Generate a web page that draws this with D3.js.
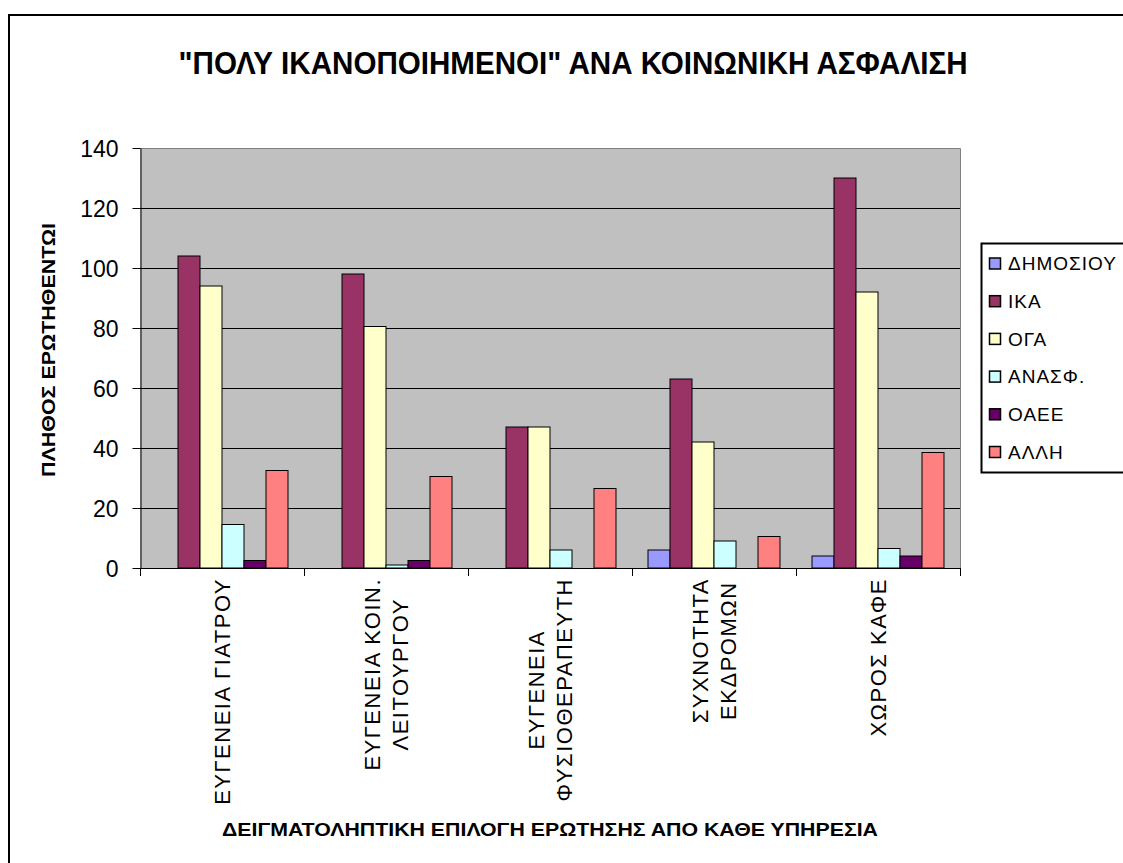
<!DOCTYPE html>
<html>
<head>
<meta charset="utf-8">
<script src="https://cdn.jsdelivr.net/npm/d3@7"></script>
<style>
  html, body { margin: 0; padding: 0; background: #fff; }
  svg { display: block; }
  text { font-family: "Liberation Sans", Arial, sans-serif; fill: #000; }
</style>
</head>
<body>
<svg id="chart" width="1123" height="863"></svg>
<script>
// ---- data ----
const categories = [
  ["ΕΥΓΕΝΕΙΑ ΓΙΑΤΡΟΥ"],
  ["ΕΥΓΕΝΕΙΑ ΚΟΙΝ.", "ΛΕΙΤΟΥΡΓΟΥ"],
  ["ΕΥΓΕΝΕΙΑ", "ΦΥΣΙΟΘΕΡΑΠΕΥΤΗ"],
  ["ΣΥΧΝΟΤΗΤΑ", "ΕΚΔΡΟΜΩΝ"],
  ["ΧΩΡΟΣ ΚΑΦΕ"]
];
const seriesNames = ["ΔΗΜΟΣΙΟΥ", "ΙΚΑ", "ΟΓΑ", "ΑΝΑΣΦ.", "ΟΑΕΕ", "ΑΛΛΗ"];
const seriesColors = ["#9999FF", "#993366", "#FFFFCC", "#CCFFFF", "#660066", "#FF8080"];
const dimosiou = [0, 0, 0, 6, 4];
const ika      = [104, 98, 47, 63, 130];
const oga      = [94, 80.5, 47, 42, 92];
const anasf    = [14.5, 1, 6, 9, 6.5];
const oaee     = [2.5, 2.5, 0, 0, 4];
const alli     = [32.5, 30.5, 26.5, 10.5, 38.5];
const seriesValues = [dimosiou, ika, oga, anasf, oaee, alli];
const yTicks = [0, 20, 40, 60, 80, 100, 120, 140];
const chartTitle = "\"ΠΟΛΥ ΙΚΑΝΟΠΟΙΗΜΕΝΟΙ\" ΑΝΑ ΚΟΙΝΩΝΙΚΗ ΑΣΦΑΛΙΣΗ";
const yTitle = "ΠΛΗΘΟΣ ΕΡΩΤΗΘΕΝΤΩΙ";
const xTitle = "ΔΕΙΓΜΑΤΟΛΗΠΤΙΚΗ ΕΠΙΛΟΓΗ ΕΡΩΤΗΣΗΣ ΑΠΟ ΚΑΘΕ ΥΠΗΡΕΣΙΑ";

// ---- layout ----
const svg = d3.select("#chart");
const plot = { left: 140, right: 960, top: 148, bottom: 568 };

// outer chart border
svg.append("rect")
  .attr("x", 9).attr("y", 15).attr("width", 1130).attr("height", 870)
  .attr("fill", "#fff").attr("stroke", "#000").attr("stroke-width", 2);

const x0 = d3.scaleBand().domain(d3.range(categories.length))
  .range([plot.left, plot.right]).paddingInner(0).paddingOuter(0);
const x1 = d3.scaleBand().domain(d3.range(seriesNames.length))
  .range([0, x0.bandwidth()]).paddingInner(0).paddingOuter(16 / 22);
const y = d3.scaleLinear().domain([0, 140]).range([plot.bottom, plot.top]);

// plot background
svg.append("rect")
  .attr("x", plot.left).attr("y", plot.top)
  .attr("width", plot.right - plot.left).attr("height", plot.bottom - plot.top)
  .attr("fill", "#C0C0C0");

// gridlines
svg.append("g").selectAll("line").data(yTicks.filter(t => t > 0 && t < 140)).join("line")
  .attr("x1", plot.left).attr("x2", plot.right)
  .attr("y1", d => y(d) + 0.5).attr("y2", d => y(d) + 0.5)
  .attr("stroke", "#000").attr("stroke-width", 1);

// top & right plot border (grey)
svg.append("path")
  .attr("d", `M${plot.left},${plot.top + 0.5}H${plot.right + 0.5}V${plot.bottom}`)
  .attr("fill", "none").attr("stroke", "#808080").attr("stroke-width", 1);

// bars
const data = [];
categories.forEach((c, ci) => seriesNames.forEach((s, si) => {
  data.push({ ci, si, v: seriesValues[si][ci] });
}));
svg.append("g").selectAll("rect").data(data.filter(d => d.v > 0)).join("rect")
  .attr("x", d => x0(d.ci) + x1(d.si))
  .attr("y", d => y(d.v))
  .attr("width", x1.bandwidth())
  .attr("height", d => y(0) - y(d.v))
  .attr("fill", d => seriesColors[d.si])
  .attr("stroke", "#000").attr("stroke-width", 1);

// y axis
const yAxis = d3.axisLeft(y).tickValues(yTicks).tickSize(8).tickPadding(14).tickSizeOuter(0);
const yg = svg.append("g").attr("transform", `translate(${plot.left + 0.5},0)`).call(yAxis);
yg.select(".domain").attr("stroke", "#000");
yg.selectAll(".tick line").attr("stroke", "#000");
yg.selectAll(".tick text").attr("font-size", 23).attr("font-family", "Liberation Sans, Arial, sans-serif").attr("dy", "0.35em");

// x axis (ticks at category boundaries)
const boundaries = d3.range(categories.length + 1).map(i => i < categories.length ? x0(i) : plot.right);
svg.append("line")
  .attr("x1", plot.left).attr("x2", plot.right)
  .attr("y1", plot.bottom + 0.5).attr("y2", plot.bottom + 0.5)
  .attr("stroke", "#000");
svg.append("g").selectAll("line").data(boundaries).join("line")
  .attr("x1", d => d + 0.5).attr("x2", d => d + 0.5)
  .attr("y1", plot.bottom).attr("y2", plot.bottom + 8)
  .attr("stroke", "#000");

// category labels (rotated, centered lines, block aligned to top)
const labelTop = 578;
const lineGap = 28;
categories.forEach((lines, ci) => {
  const cx = x0(ci) + x0.bandwidth() / 2;
  const n = lines.length;
  const g = svg.append("g");
  const texts = lines.map((ln, li) => {
    const lx = cx + (li - (n - 1) / 2) * lineGap + 8;
    return g.append("text")
      .attr("font-size", 22)
      .attr("letter-spacing", 1.5)
      .attr("text-anchor", "middle")
      .attr("data-x", lx)
      .text(ln);
  });
  const maxLen = d3.max(texts, t => t.node().getComputedTextLength());
  const cy = labelTop + maxLen / 2;
  texts.forEach(t => {
    const lx = +t.attr("data-x");
    t.attr("transform", `translate(${lx},${cy}) rotate(-90)`);
  });
});

// title
svg.append("text")
  .attr("x", 573).attr("y", 74)
  .attr("text-anchor", "middle")
  .attr("font-size", 31).attr("font-weight", "bold")
  .attr("textLength", 789).attr("lengthAdjust", "spacingAndGlyphs")
  .text(chartTitle);

// y title
svg.append("text")
  .attr("transform", "translate(55,350) rotate(-90)")
  .attr("text-anchor", "middle")
  .attr("font-size", 18).attr("font-weight", "bold")
  .attr("textLength", 254).attr("lengthAdjust", "spacingAndGlyphs")
  .text(yTitle);

// x title
svg.append("text")
  .attr("x", 550).attr("y", 836)
  .attr("text-anchor", "middle")
  .attr("font-size", 18).attr("font-weight", "bold")
  .attr("textLength", 656).attr("lengthAdjust", "spacingAndGlyphs")
  .text(xTitle);

// legend
const legend = svg.append("g");
legend.append("rect")
  .attr("x", 981.5).attr("y", 243.5).attr("width", 200).attr("height", 229)
  .attr("fill", "#fff").attr("stroke", "#000").attr("stroke-width", 2);
const legY = d3.scalePoint().domain(seriesNames).range([263.5, 452]);
seriesNames.forEach((s, i) => {
  legend.append("rect")
    .attr("x", 989.5).attr("y", legY(s) - 5.5).attr("width", 11).attr("height", 11)
    .attr("fill", seriesColors[i]).attr("stroke", "#000").attr("stroke-width", 1.5);
  legend.append("text")
    .attr("x", 1008).attr("y", legY(s))
    .attr("dy", "0.36em")
    .attr("font-size", 19)
    .attr("letter-spacing", 1)
    .text(s);
});
</script>
</body>
</html>
